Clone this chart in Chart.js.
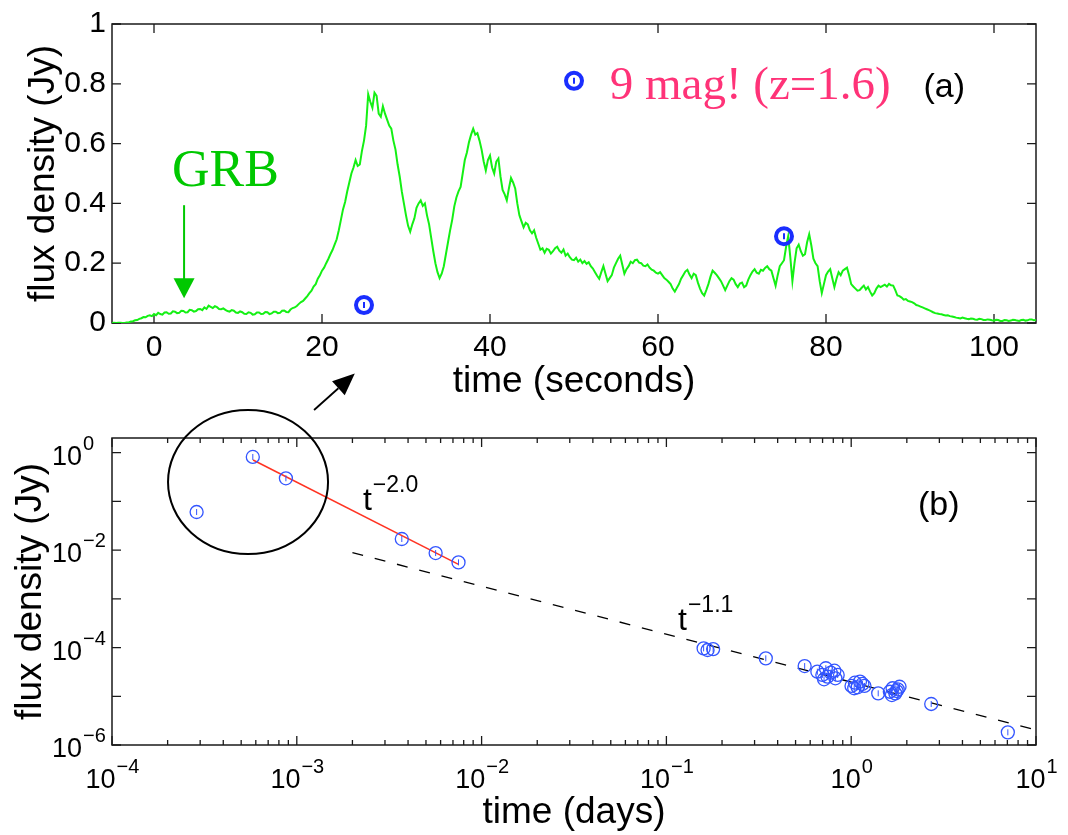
<!DOCTYPE html>
<html><head><meta charset="utf-8">
<script src="https://cdn.jsdelivr.net/npm/chart.js@4/dist/chart.umd.min.js"></script>
<style>
html,body{margin:0;padding:0;background:#fff;}
#wrap{position:relative;width:1068px;height:835px;overflow:hidden;}
canvas{position:absolute;left:0;top:0;}
</style></head><body>
<div id="wrap"><canvas id="cTop" width="1068" height="835"></canvas><canvas id="cBot" width="1068" height="835"></canvas></div>
<script>
// ---------- tick labels ----------
const topXTicks = [0, 20, 40, 60, 80, 100];
const topXLabels = ['0', '20', '40', '60', '80', '100'];
const topYTicks = [0, 0.2, 0.4, 0.6, 0.8, 1];
const topYLabels = ['0', '0.2', '0.4', '0.6', '0.8', '1'];
const botXExps = [-4, -3, -2, -1, 0, 1];
const botYTickExps = [0, -1, -2, -3, -4, -5, -6];
const botYLabelExps = [0, -2, -4, -6];

// ---------- panel (a): gamma-ray light curve (seconds, Jy) ----------
const grbTime = [
 -5,-4.75,-4.5,-4.25, -4,-3.75,-3.5,-3.25, -3,-2.75,-2.5,-2.25, -2,-1.75,-1.5,-1.25, -1,-0.75,-0.5,-0.25,
 0,0.25,0.5,0.75, 1,1.25,1.5,1.75, 2,2.25,2.5,2.75, 3,3.25,3.5,3.75, 4,4.25,4.5,4.75,
 5,5.25,5.5,5.75, 6,6.25,6.5,6.75, 7,7.25,7.5,7.75, 8,8.25,8.5,8.75, 9,9.25,9.5,9.75,
 10,10.25,10.5,10.75, 11,11.25,11.5,11.75, 12,12.25,12.5,12.75, 13,13.25,13.5,13.75, 14,14.25,14.5,14.75,
 15,15.25,15.5,15.75, 16,16.25,16.5,16.75, 17,17.25,17.5,17.75, 18,18.25,18.5,18.75, 19,19.25,19.5,19.75,
 20,20.25,20.5,20.75, 21,21.25,21.5,21.75, 22,22.25,22.5,22.75, 23,23.25,23.5,23.75, 24,24.25,24.5,24.75,
 25,25.25,25.5,25.75, 26,26.25,26.5,26.75, 27,27.25,27.5,27.75, 28,28.25,28.5,28.75, 29,29.25,29.5,29.75,
 30,30.25,30.5,30.75, 31,31.25,31.5,31.75, 32,32.25,32.5,32.75, 33,33.25,33.5,33.75, 34,34.25,34.5,34.75,
 35,35.25,35.5,35.75, 36,36.25,36.5,36.75, 37,37.25,37.5,37.75, 38,38.25,38.5,38.75, 39,39.25,39.5,39.75,
 40,40.25,40.5,40.75, 41,41.25,41.5,41.75, 42,42.25,42.5,42.75, 43,43.25,43.5,43.75, 44,44.25,44.5,44.75,
 45,45.25,45.5,45.75, 46,46.25,46.5,46.75, 47,47.25,47.5,47.75, 48,48.25,48.5,48.75, 49,49.25,49.5,49.75,
 50,50.25,50.5,50.75, 51,51.25,51.5,51.75, 52,52.25,52.5,52.75, 53,53.25,53.5,53.75, 54,54.25,54.5,54.75,
 55,55.25,55.5,55.75, 56,56.25,56.5,56.75, 57,57.25,57.5,57.75, 58,58.25,58.5,58.75, 59,59.25,59.5,59.75,
 60,60.25,60.5,60.75, 61,61.25,61.5,61.75, 62,62.25,62.5,62.75, 63,63.25,63.5,63.75, 64,64.25,64.5,64.75,
 65,65.25,65.5,65.75, 66,66.25,66.5,66.75, 67,67.25,67.5,67.75, 68,68.25,68.5,68.75, 69,69.25,69.5,69.75,
 70,70.25,70.5,70.75, 71,71.25,71.5,71.75, 72,72.25,72.5,72.75, 73,73.25,73.5,73.75, 74,74.25,74.5,74.75,
 75,75.25,75.5,75.75, 76,76.25,76.5,76.75, 77,77.25,77.5,77.75, 78,78.25,78.5,78.75, 79,79.25,79.5,79.75,
 80,80.25,80.5,80.75, 81,81.25,81.5,81.75, 82,82.25,82.5,82.75, 83,83.25,83.5,83.75, 84,84.25,84.5,84.75,
 85,85.25,85.5,85.75, 86,86.25,86.5,86.75, 87,87.25,87.5,87.75, 88,88.25,88.5,88.75, 89,89.25,89.5,89.75,
 90,90.25,90.5,90.75, 91,91.25,91.5,91.75, 92,92.25,92.5,92.75, 93,93.25,93.5,93.75, 94,94.25,94.5,94.75,
 95,95.25,95.5,95.75, 96,96.25,96.5,96.75, 97,97.25,97.5,97.75, 98,98.25,98.5,98.75, 99,99.25,99.5,99.75,
 100,100.25,100.5,100.75, 101,101.25,101.5,101.75, 102,102.25,102.5,102.75, 103,103.25,103.5,103.75, 104,104.25,104.5,104.75,
 105];
const grbFlux = [
 0.000,0.001,0.000,0.001, 0.001,0.000,0.000,0.002, 0.002,0.005,0.006,0.009, 0.010,0.014,0.016,0.020, 0.019,0.024,0.026,0.023,
 0.030,0.026,0.034,0.030, 0.028,0.035,0.036,0.031, 0.032,0.039,0.038,0.033, 0.034,0.041,0.040,0.035, 0.036,0.044,0.043,0.038,
 0.040,0.046,0.047,0.043, 0.052,0.047,0.058,0.054, 0.050,0.056,0.053,0.047, 0.046,0.049,0.044,0.040, 0.038,0.043,0.041,0.035,
 0.034,0.039,0.036,0.031, 0.030,0.036,0.034,0.028, 0.029,0.035,0.035,0.030, 0.031,0.037,0.036,0.030, 0.032,0.038,0.038,0.033,
 0.034,0.041,0.042,0.037, 0.036,0.045,0.050,0.052, 0.057,0.064,0.070,0.074, 0.082,0.090,0.100,0.108, 0.122,0.130,0.148,0.160,
 0.175,0.185,0.200,0.214, 0.230,0.244,0.262,0.280, 0.310,0.345,0.380,0.405, 0.440,0.470,0.500,0.520, 0.545,0.525,0.530,0.575,
 0.610,0.660,0.765,0.740, 0.720,0.770,0.760,0.700, 0.690,0.725,0.700,0.680, 0.660,0.650,0.610,0.580, 0.530,0.490,0.440,0.400,
 0.360,0.325,0.305,0.330, 0.350,0.385,0.400,0.410, 0.392,0.400,0.360,0.330, 0.285,0.240,0.200,0.170, 0.150,0.165,0.190,0.230,
 0.270,0.310,0.345,0.390, 0.420,0.440,0.455,0.500, 0.545,0.570,0.605,0.630, 0.650,0.630,0.635,0.610, 0.580,0.540,0.510,0.545,
 0.560,0.520,0.500,0.540, 0.550,0.490,0.445,0.430, 0.410,0.450,0.485,0.470, 0.450,0.400,0.360,0.340, 0.320,0.335,0.330,0.310,
 0.300,0.310,0.285,0.265, 0.245,0.250,0.235,0.248, 0.245,0.232,0.240,0.250, 0.255,0.242,0.235,0.246, 0.225,0.232,0.220,0.212,
 0.210,0.218,0.205,0.212, 0.200,0.207,0.198,0.203, 0.190,0.182,0.170,0.158, 0.148,0.170,0.190,0.165, 0.140,0.150,0.160,0.185,
 0.200,0.215,0.225,0.195, 0.165,0.180,0.190,0.205, 0.200,0.210,0.212,0.202, 0.200,0.192,0.190,0.196, 0.185,0.178,0.175,0.168,
 0.165,0.170,0.160,0.150, 0.145,0.138,0.130,0.115, 0.105,0.118,0.130,0.148, 0.160,0.172,0.178,0.162, 0.150,0.165,0.160,0.135,
 0.115,0.100,0.092,0.110, 0.130,0.155,0.175,0.168, 0.160,0.150,0.140,0.125, 0.110,0.125,0.140,0.150, 0.145,0.130,0.120,0.132,
 0.135,0.120,0.125,0.145, 0.160,0.172,0.180,0.168, 0.165,0.178,0.175,0.184, 0.190,0.180,0.175,0.150, 0.125,0.160,0.190,0.200,
 0.210,0.255,0.290,0.220, 0.140,0.200,0.250,0.262, 0.240,0.225,0.230,0.270, 0.297,0.260,0.215,0.200, 0.190,0.140,0.100,0.130,
 0.160,0.172,0.180,0.150, 0.120,0.148,0.170,0.160, 0.175,0.180,0.185,0.160, 0.130,0.122,0.115,0.108, 0.110,0.118,0.125,0.112,
 0.120,0.105,0.092,0.100, 0.115,0.125,0.120,0.124, 0.128,0.122,0.131,0.126, 0.125,0.110,0.092,0.090, 0.085,0.078,0.080,0.074,
 0.072,0.070,0.066,0.060, 0.058,0.055,0.052,0.049, 0.046,0.043,0.040,0.036, 0.033,0.032,0.030,0.029, 0.027,0.025,0.026,0.023,
 0.022,0.020,0.018,0.017, 0.015,0.018,0.016,0.014, 0.013,0.015,0.014,0.012, 0.011,0.014,0.013,0.010, 0.010,0.012,0.011,0.009,
 0.008,0.011,0.010,0.007, 0.007,0.010,0.009,0.007, 0.008,0.011,0.010,0.008, 0.007,0.010,0.011,0.008, 0.009,0.012,0.012,0.009,
 0.010];
const opticalSec = [25, 75];
const opticalJy = [0.06, 0.29];
const legendMarkSec = [50];
const legendMarkJy = [0.81];

// ---------- panel (b): afterglow (days, Jy) ----------
const earlyDays = [2.87e-4, 5.78e-4, 8.73e-4, 3.70e-3, 5.64e-3, 7.50e-3];
const earlyJy   = [0.0605, 0.816, 0.298, 0.0169, 8.7e-3, 5.6e-3];
const lateDays = [0.159, 0.167, 0.179, 0.345, 0.560,
  0.656, 0.698, 0.729, 0.744, 0.776, 0.811, 0.821, 0.713, 0.845,
  1.004, 1.047, 1.083, 1.116, 1.150, 1.038, 1.180, 1.40,
  1.618, 1.675, 1.732, 1.785, 1.826, 1.660, 1.761, 2.71, 7.04];
const lateJy = [9.6e-5, 8.9e-5, 9.3e-5, 6.0e-5, 4.17e-5,
  3.20e-5, 2.74e-5, 3.76e-5, 2.52e-5, 3.05e-5, 3.35e-5, 2.34e-5, 2.23e-5, 2.74e-5,
  1.63e-5, 1.90e-5, 1.53e-5, 2.0e-5, 1.79e-5, 1.46e-5, 1.63e-5, 1.15e-5,
  1.24e-5, 1.46e-5, 1.15e-5, 1.39e-5, 1.57e-5, 1.06e-5, 1.28e-5, 6.95e-6, 1.82e-6];
const fastFitDays = [5.8e-4, 7.5e-3];
const fastFitJy = [0.708, 0.0051];
const slowFitDays = [2.0e-3, 10];
const slowFitJy = [8.85e-3, 2.03e-6];

const zip = (xs, ys) => xs.map((x, i) => ({x: x, y: ys[i]}));

const SANS = '"Liberation Sans", Arial, Helvetica, sans-serif';
const SERIF = '"Liberation Serif", "Times New Roman", serif';
const TICK_FONT = {family: SANS, size: 30};
const TITLE_FONT = {family: SANS, size: 37};
const FRAME = '#1a1a1a';

function inwardTicks(ctx, a, xs, ys, len) {
  ctx.beginPath();
  xs.forEach(px => { ctx.moveTo(px, a.bottom); ctx.lineTo(px, a.bottom - len); ctx.moveTo(px, a.top); ctx.lineTo(px, a.top + len); });
  ys.forEach(py => { ctx.moveTo(a.left, py); ctx.lineTo(a.left + len, py); ctx.moveTo(a.right, py); ctx.lineTo(a.right - len, py); });
  ctx.stroke();
}

function errTicks(chart, dsIndex, half, width, color) {
  const meta = chart.getDatasetMeta(dsIndex);
  const ctx = chart.ctx;
  ctx.save();
  ctx.strokeStyle = color; ctx.lineWidth = width;
  ctx.beginPath();
  meta.data.forEach(p => { ctx.moveTo(p.x, p.y - half); ctx.lineTo(p.x, p.y + half); });
  ctx.stroke();
  ctx.restore();
}

// ---------- top chart ----------
const topPlugin = {
  id: 'topDecor',
  beforeDatasetsDraw(chart) {
    const {ctx, chartArea: a, scales: {x, y}} = chart;
    ctx.save();
    ctx.strokeStyle = FRAME; ctx.lineWidth = 1.5;
    ctx.strokeRect(a.left, a.top, a.right - a.left, a.bottom - a.top);
    ctx.lineWidth = 1.3;
    inwardTicks(ctx, a, topXTicks.map(v => x.getPixelForValue(v)), topYTicks.map(v => y.getPixelForValue(v)), 9);
    ctx.restore();
  },
  afterDatasetsDraw(chart) {
    const {ctx, scales: {x, y}} = chart;
    errTicks(chart, 1, 3, 2, '#1a2eff');
    errTicks(chart, 2, 3, 2, '#1a2eff');
    ctx.save();
    ctx.fillStyle = '#00c800'; ctx.strokeStyle = '#00c800';
    ctx.font = '52px ' + SERIF; ctx.textBaseline = 'alphabetic'; ctx.textAlign = 'left';
    ctx.fillText('GRB', x.getPixelForValue(2.15), y.getPixelForValue(0.459));
    const ax = x.getPixelForValue(3.58), ay0 = y.getPixelForValue(0.394), ay1 = y.getPixelForValue(0.083);
    ctx.lineWidth = 2;
    ctx.beginPath(); ctx.moveTo(ax, ay0); ctx.lineTo(ax, ay1 - 18); ctx.stroke();
    ctx.beginPath(); ctx.moveTo(ax - 10.5, ay1 - 20); ctx.lineTo(ax + 10.5, ay1 - 20); ctx.lineTo(ax, ay1); ctx.closePath(); ctx.fill();
    ctx.fillStyle = '#ff3378';
    ctx.font = '47px ' + SERIF;
    ctx.fillText('9 mag! (z=1.6)', x.getPixelForValue(54.26), y.getPixelForValue(0.748));
    ctx.fillStyle = '#000';
    ctx.font = '34px ' + SANS;
    ctx.fillText('(a)', x.getPixelForValue(91.6), y.getPixelForValue(0.756));
    ctx.restore();
  }
};

new Chart(document.getElementById('cTop'), {
  type: 'scatter',
  data: {
    datasets: [
      {type: 'line', data: zip(grbTime, grbFlux), borderColor: '#14f014', borderWidth: 2, pointRadius: 0, tension: 0, fill: false, order: 3},
      {data: zip(opticalSec, opticalJy), pointRadius: 8, pointBorderWidth: 4, borderColor: '#1a2eff', backgroundColor: 'rgba(255,255,255,0)', pointHoverRadius: 8, order: 1},
      {data: zip(legendMarkSec, legendMarkJy), pointRadius: 8, pointBorderWidth: 4, borderColor: '#1a2eff', backgroundColor: 'rgba(255,255,255,0)', pointHoverRadius: 8, order: 1, clip: false}
    ]
  },
  options: {
    responsive: false, maintainAspectRatio: false, devicePixelRatio: 1, animation: false,
    events: [],
    layout: {padding: {left: 0, top: 16, right: 32, bottom: 835 - 323 - 81}},
    plugins: {legend: {display: false}, tooltip: {enabled: false}},
    scales: {
      x: {
        type: 'linear', min: -5, max: 105,
        grid: {display: false, drawTicks: false}, border: {display: false},
        afterBuildTicks: s => { s.ticks = topXTicks.map(v => ({value: v})); },
        afterFit: s => { s.height = 81; },
        ticks: {font: TICK_FONT, color: '#000', padding: 7, maxRotation: 0, autoSkip: false,
          callback: v => topXLabels[topXTicks.indexOf(v)]},
        title: {display: true, text: 'time (seconds)', font: TITLE_FONT, color: '#000', padding: {top: 0, bottom: 0}}
      },
      y: {
        type: 'linear', min: 0, max: 1,
        grid: {display: false, drawTicks: false}, border: {display: false},
        afterBuildTicks: s => { s.ticks = topYTicks.map(v => ({value: v})); },
        afterFit: s => { s.width = 112; },
        ticks: {font: TICK_FONT, color: '#000', padding: 6, autoSkip: false,
          callback: v => topYLabels[topYTicks.indexOf(v)]},
        title: {display: true, text: 'flux density (Jy)', font: TITLE_FONT, color: '#000', padding: {top: 22, bottom: 0}}
      }
    }
  },
  plugins: [topPlugin]
});

// ---------- bottom chart ----------
function drawPow(ctx, exp, x, y, mode, baseSize, expSize, raise) {
  const base = '10', ex = String(exp).replace('-', '\u2212');
  ctx.font = baseSize + 'px ' + SANS; const wb = ctx.measureText(base).width;
  ctx.font = expSize + 'px ' + SANS; const we = ctx.measureText(ex).width;
  const x0 = mode === 'center' ? x - (wb + we) / 2 : x - wb;
  ctx.textAlign = 'left'; ctx.textBaseline = 'alphabetic';
  ctx.font = baseSize + 'px ' + SANS; ctx.fillText(base, x0, y);
  ctx.font = expSize + 'px ' + SANS; ctx.fillText(ex, x0 + wb + 1, y - raise);
}

function drawT(ctx, exp, x, y) {
  ctx.font = '32px ' + SANS; ctx.textAlign = 'left'; ctx.textBaseline = 'alphabetic';
  ctx.fillText('t', x, y);
  const w = ctx.measureText('t').width;
  ctx.font = '23px ' + SANS;
  ctx.fillText(exp, x + w + 1, y - 18);
}

const botPlugin = {
  id: 'botDecor',
  beforeDatasetsDraw(chart) {
    const {ctx, chartArea: a, scales: {x, y}} = chart;
    ctx.save();
    ctx.strokeStyle = FRAME; ctx.lineWidth = 1.5;
    ctx.strokeRect(a.left, a.top, a.right - a.left, a.bottom - a.top);
    ctx.lineWidth = 1.3;
    inwardTicks(ctx, a, botXExps.map(e => x.getPixelForValue(Math.pow(10, e))), botYTickExps.map(e => y.getPixelForValue(Math.pow(10, e))), 9);
    const minors = [];
    botXExps.slice(0, -1).forEach(e => { [2, 3, 4, 5, 6, 7, 8, 9].forEach(m => minors.push(x.getPixelForValue(m * Math.pow(10, e)))); });
    ctx.beginPath();
    minors.forEach(px => { ctx.moveTo(px, a.bottom); ctx.lineTo(px, a.bottom - 5); ctx.moveTo(px, a.top); ctx.lineTo(px, a.top + 5); });
    ctx.stroke();
    ctx.fillStyle = '#000';
    botXExps.forEach(e => drawPow(ctx, e, x.getPixelForValue(Math.pow(10, e)), a.bottom + 43, 'center', 27, 20, 15));
    botYLabelExps.forEach(e => drawPow(ctx, e, a.left - 30, y.getPixelForValue(Math.pow(10, e)) + 12, 'baseRight', 27, 20, 15));
    ctx.restore();
  },
  afterDatasetsDraw(chart) {
    const {ctx, scales: {x, y}} = chart;
    errTicks(chart, 0, 3, 1, '#3355ff');
    errTicks(chart, 1, 3, 1, '#3355ff');
    ctx.save();
    ctx.fillStyle = '#000'; ctx.strokeStyle = '#000';
    drawT(ctx, '\u22122.0', x.getPixelForValue(2.28e-3), y.getPixelForValue(0.0667));
    drawT(ctx, '\u22121.1', x.getPixelForValue(0.1156), y.getPixelForValue(2.30e-4));
    ctx.font = '34px ' + SANS; ctx.textAlign = 'left';
    ctx.fillText('(b)', x.getPixelForValue(2.30), y.getPixelForValue(0.0526));
    const ex0 = x.getPixelForValue(2.01e-4), ex1 = x.getPixelForValue(1.476e-3);
    const ey0 = y.getPixelForValue(7.52), ey1 = y.getPixelForValue(8.33e-3);
    ctx.lineWidth = 2;
    ctx.beginPath();
    ctx.ellipse((ex0 + ex1) / 2, (ey0 + ey1) / 2, (ex1 - ex0) / 2, (ey1 - ey0) / 2, 0, 0, Math.PI * 2);
    ctx.stroke();
    const tx0 = x.getPixelForValue(1.24e-3), ty0 = y.getPixelForValue(7.52);
    const tx1 = x.getPixelForValue(2.06e-3), ty1 = y.getPixelForValue(42);
    const ang = Math.atan2(ty1 - ty0, tx1 - tx0);
    const hl = 22, hw = 9.5;
    const bx = tx1 - hl * Math.cos(ang), by = ty1 - hl * Math.sin(ang);
    ctx.lineWidth = 1.8;
    ctx.beginPath(); ctx.moveTo(tx0, ty0); ctx.lineTo(bx, by); ctx.stroke();
    ctx.beginPath();
    ctx.moveTo(tx1, ty1);
    ctx.lineTo(bx + hw * Math.sin(ang), by - hw * Math.cos(ang));
    ctx.lineTo(bx - hw * Math.sin(ang), by + hw * Math.cos(ang));
    ctx.closePath(); ctx.fill();
    ctx.restore();
  }
};

new Chart(document.getElementById('cBot'), {
  type: 'scatter',
  data: {
    datasets: [
      {data: zip(earlyDays, earlyJy), pointRadius: 6.5, pointBorderWidth: 1.3, borderColor: '#3355ff', backgroundColor: 'rgba(255,255,255,0)', order: 1},
      {data: zip(lateDays, lateJy), pointRadius: 6.5, pointBorderWidth: 1.3, borderColor: '#3355ff', backgroundColor: 'rgba(255,255,255,0)', order: 1},
      {type: 'line', data: zip(fastFitDays, fastFitJy), borderColor: '#ff3322', borderWidth: 1.5, pointRadius: 0, fill: false, order: 2},
      {type: 'line', data: zip(slowFitDays, slowFitJy), borderColor: '#000', borderWidth: 1.3, borderDash: [11, 12], pointRadius: 0, fill: false, order: 2}
    ]
  },
  options: {
    responsive: false, maintainAspectRatio: false, devicePixelRatio: 1, animation: false,
    events: [],
    layout: {padding: {left: 0, top: 438, right: 32, bottom: 0}},
    plugins: {legend: {display: false}, tooltip: {enabled: false}},
    scales: {
      x: {
        type: 'logarithmic', min: 1e-4, max: 10,
        grid: {display: false, drawTicks: false}, border: {display: false},
        afterFit: s => { s.height = 90; },
        ticks: {display: false},
        title: {display: true, text: 'time (days)', font: TITLE_FONT, color: '#000', padding: {top: 0, bottom: 0}}
      },
      y: {
        type: 'logarithmic', min: 1e-6, max: 2,
        grid: {display: false, drawTicks: false}, border: {display: false},
        afterFit: s => { s.width = 112; },
        ticks: {display: false},
        title: {display: true, text: 'flux density (Jy)', font: TITLE_FONT, color: '#000', padding: {top: 9, bottom: 0}}
      }
    }
  },
  plugins: [botPlugin]
});
</script>
</body></html>
